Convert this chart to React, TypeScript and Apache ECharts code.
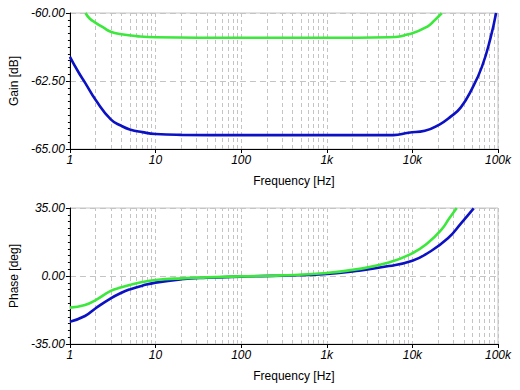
import React, { useEffect, useRef } from "react";
import * as echarts from "echarts";

// ---- Data ----
const gainBlueF = [1, 1.25, 1.5, 2, 3, 4, 5, 7, 10, 20, 100, 1000, 6000, 9000, 14000, 20700, 28000, 36800, 50000, 65000, 81000, 95000];
const gainBlueV = [-61.61, -62.16, -62.56, -63.2, -63.91, -64.15, -64.28, -64.38, -64.45, -64.48, -64.49, -64.49, -64.49, -64.4, -64.33, -64.1, -63.81, -63.47, -62.77, -61.97, -60.97, -60.0];

const gainGreenF = [1.52, 1.7, 2, 2.5, 3, 4, 6, 10, 100, 1000, 5300, 9800, 15300, 18000, 22000];
const gainGreenV = [-60.0, -60.2, -60.36, -60.55, -60.69, -60.78, -60.85, -60.89, -60.91, -60.91, -60.89, -60.75, -60.48, -60.28, -60.01];

const phaseBlueF = [1, 1.5, 2, 3, 4, 5, 7, 10, 20, 40, 100, 300, 919, 2200, 5300, 10000, 15000, 26000, 37000, 52000];
const phaseBlueV = [-23.5, -20.6, -16.6, -11.5, -8.6, -6.9, -5.0, -3.4, -1.7, -0.9, -0.3, 0.2, 0.9, 2.6, 5.1, 7.9, 11.7, 19.4, 27.1, 34.8];

const phaseGreenF = [1, 1.5, 2, 3, 4, 5, 7, 10, 20, 40, 100, 300, 919, 2200, 5300, 10000, 15000, 21700, 27000, 33000];
const phaseGreenV = [-16.3, -14.9, -12.4, -7.7, -5.8, -4.6, -3.1, -2.1, -1.2, -0.7, -0.2, 0.3, 1.4, 3.4, 6.9, 11.7, 16.8, 23.7, 29.7, 35.0];

const freqTickLabels: Record<number, string> = { 1: "1", 10: "10", 100: "100", 1000: "1k", 10000: "10k", 100000: "100k" };
const gridDecades = [1, 10, 100, 1000, 10000];
const gridMantissas = [2, 3, 4, 5, 6, 7, 8, 9];

const BLUE = "#0c12c4";
const GREEN = "#3ce83c";
const GRIDC = "#c4c4c4";
const FONT = "Arial, 'Liberation Sans', sans-serif";

const pairs = (f: number[], v: number[]) => f.map((x, i) => [x, v[i]]);

export default function App() {
  const ref = useRef<HTMLDivElement>(null);
  useEffect(() => {
    document.body.style.margin = "0";
    if (!ref.current) return;
    const chart = echarts.init(ref.current, undefined, { renderer: "svg" });

    const minorLines: any[] = [];
    gridDecades.forEach((d) => gridMantissas.forEach((m) => minorLines.push({ xAxis: d * m })));

    const xAxisBase = (gridIndex: number) => ({
      type: "log",
      logBase: 10,
      gridIndex,
      min: 1,
      max: 100000,
      splitNumber: 5,
      name: "Frequency [Hz]",
      nameLocation: "middle",
      nameGap: 26,
      nameTextStyle: { color: "#000", fontSize: 12, fontFamily: FONT, padding: [0, 0, 0, 20] },
      axisLine: { show: true, onZero: false, lineStyle: { color: "#000", width: 1 } },
      axisTick: { show: true, length: 4, lineStyle: { color: "#000" } },
      axisLabel: {
        color: "#000",
        fontSize: 12,
        fontStyle: "italic",
        fontFamily: FONT,
        margin: 5,
        formatter: (v: number) => freqTickLabels[Math.round(v)] ?? "",
      },
      splitLine: { show: true, lineStyle: { color: GRIDC, type: [4, 3], width: 1 } },
    });

    const yAxisBase = (gridIndex: number, name: string, min: number, max: number, interval: number) => ({
      type: "value",
      gridIndex,
      min,
      max,
      interval,
      name,
      nameLocation: "middle",
      nameGap: 43,
      nameTextStyle: { color: "#000", fontSize: 12, fontFamily: FONT },
      axisLine: { show: true, onZero: false, lineStyle: { color: "#000", width: 1 } },
      axisTick: { show: true, length: 4, lineStyle: { color: "#000" } },
      minorTick: { show: true, splitNumber: 10, length: 2, lineStyle: { color: "#000" } },
      axisLabel: {
        color: "#000",
        fontSize: 12,
        fontStyle: "italic",
        fontFamily: FONT,
        margin: 5,
        formatter: (v: number) => v.toFixed(2),
      },
      splitLine: { show: true, lineStyle: { color: GRIDC, type: [6, 4], width: 1 } },
    });

    const markLine = {
      silent: true,
      z: 1,
      symbol: ["none", "none"],
      label: { show: false },
      emphasis: { disabled: true },
      lineStyle: { color: GRIDC, type: [4, 3], width: 1 },
      data: minorLines,
      animation: false,
    };

    const lineSeries = (xi: number, data: number[][], color: string, withGrid: boolean) => ({
      type: "line",
      xAxisIndex: xi,
      yAxisIndex: xi,
      data,
      showSymbol: false,
      symbol: "none",
      smooth: 0.5,
      z: 3,
      lineStyle: { color, width: 2.6 },
      emphasis: { disabled: true },
      ...(withGrid ? { markLine } : {}),
    });

    chart.setOption({
      animation: false,
      backgroundColor: "#fff",
      grid: [
        { left: 61, right: 22, top: 13, height: 136, show: true, borderColor: GRIDC, borderWidth: 1, backgroundColor: "transparent" },
        { left: 61, right: 22, top: 208, height: 136, show: true, borderColor: GRIDC, borderWidth: 1, backgroundColor: "transparent" },
      ],
      xAxis: [xAxisBase(0), xAxisBase(1)],
      yAxis: [yAxisBase(0, "Gain [dB]", -65, -60, 2.5), yAxisBase(1, "Phase [deg]", -35, 35, 35)],
      series: [
        lineSeries(0, pairs(gainBlueF, gainBlueV), BLUE, true),
        lineSeries(0, pairs(gainGreenF, gainGreenV), GREEN, false),
        lineSeries(1, pairs(phaseBlueF, phaseBlueV), BLUE, true),
        lineSeries(1, pairs(phaseGreenF, phaseGreenV), GREEN, false),
      ],
    });
    return () => chart.dispose();
  }, []);
  return <div ref={ref} style={{ width: 520, height: 390 }} />;
}
